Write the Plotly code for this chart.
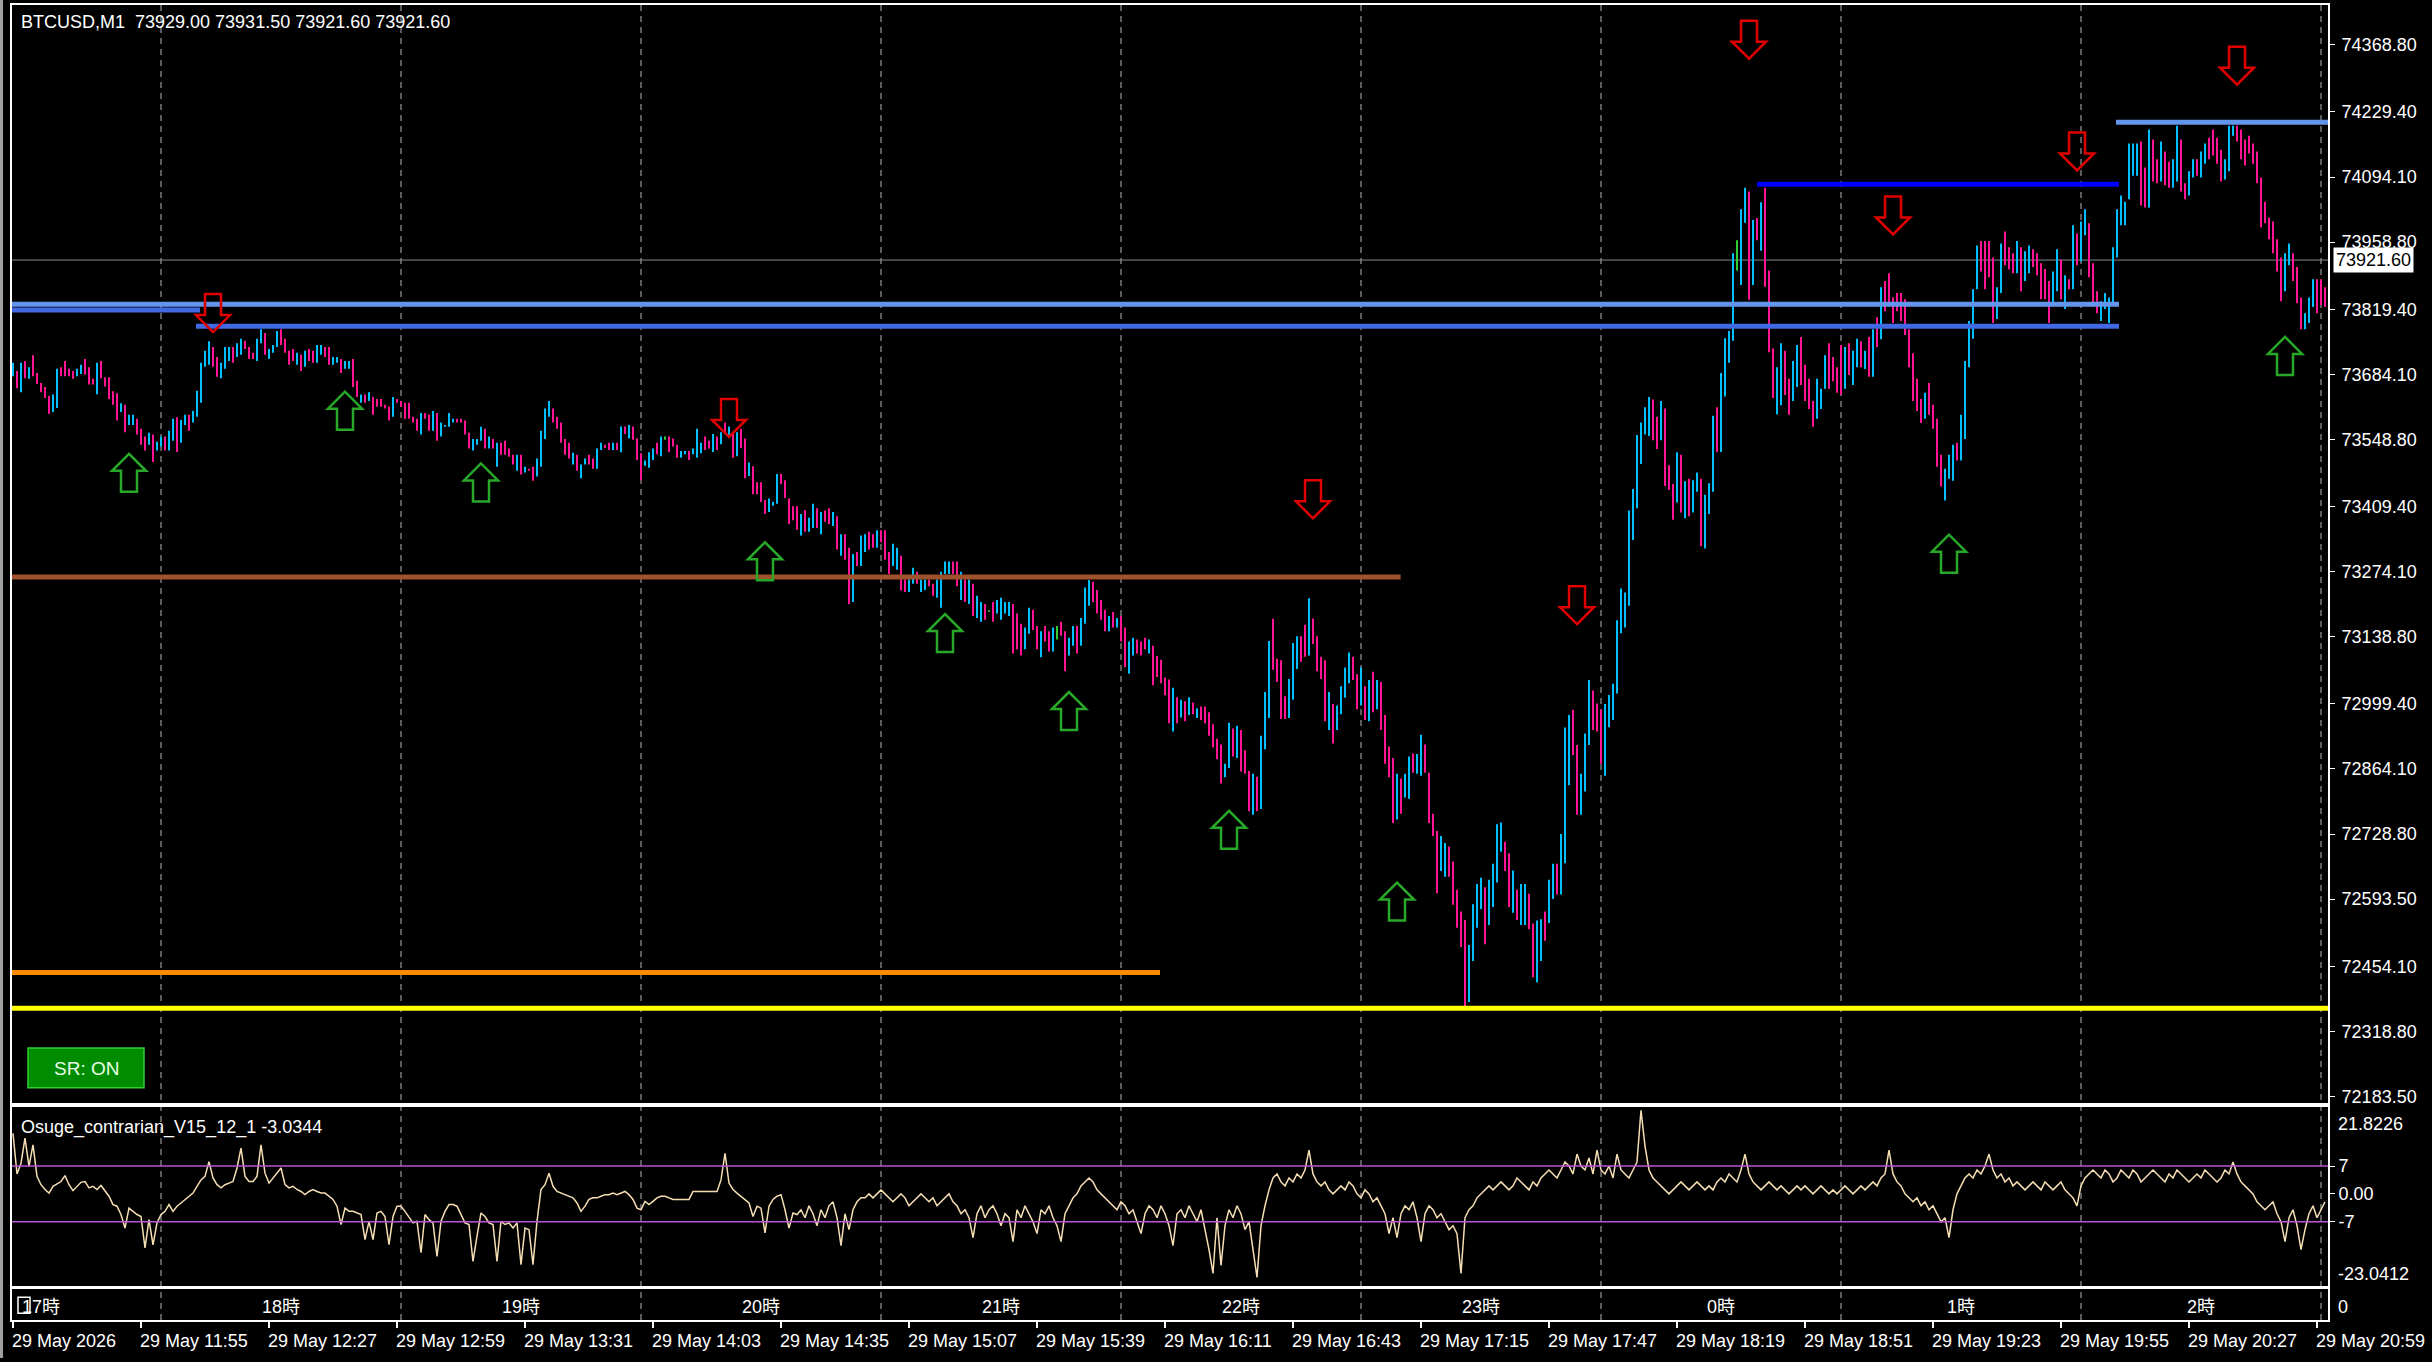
import plotly.graph_objects as go
import pandas as pd

W, H = 2432, 1362
start = pd.Timestamp("2026-05-29 11:23")

# ---------------- data ----------------
bar_high = [
73708,73691,73708,73712,73699,73724,73687,73666,73658,73639,
73642,73696,73699,73712,73696,73691,73696,73704,73716,73699,
73675,73708,73712,73678,73678,73649,73645,73624,73621,73600,
73600,73592,73571,73555,73563,73559,73544,73555,73555,73567,
73592,73595,73589,73600,73600,73608,73650,73708,73733,73753,
73741,73720,73708,73741,73741,73741,73749,73758,73754,73741,
73729,73758,73778,73770,73737,73745,73774,73778,73758,73733,
73737,73729,73725,73733,73737,73733,73745,73745,73741,73741,
73720,73720,73716,73712,73712,73716,73671,73642,73642,73647,
73637,73633,73633,73621,73617,73637,73633,73629,73625,73625,
73596,73592,73604,73604,73600,73608,73604,73584,73579,73604,
73592,73592,73592,73588,73563,73550,73550,73575,73571,73555,
73550,73542,73542,73546,73530,73517,73517,73517,73492,73488,
73492,73509,73567,73613,73629,73613,73596,73584,73550,73542,
73521,73517,73497,73509,73517,73509,73530,
73542,73538,73542,73542,73542,73576,73576,73579,73576,73551,
73520,73505,73522,73530,73542,73555,73555,73555,73551,73538,
73525,73525,73525,73530,73571,73542,73555,73546,73560,73555,
73564,73584,73576,73564,73564,73571,73551,73501,73493,73460,
73460,73423,73426,73419,73477,73477,73464,73426,73410,73410,
73394,73402,73386,73415,73406,73398,73401,73406,73398,73389,
73352,73352,73324,73311,73315,73349,73352,73357,73352,73360,
73360,73360,73315,73332,73324,73307,73258,73258,73282,73274,
73258,73258,73258,73249,73258,73274,73295,73295,73295,73295,
73274,73258,73258,73249,73224,73211,73207,73194,73211,73215,
73220,73211,73211,73207,73187,73166,73158,73199,73195,73161,
73150,73161,73150,73158,73161,73170,73150,73137,73161,73161,
73178,73241,73257,73253,73236,73215,73195,73182,73190,73178,
73182,73158,73129,73137,73133,73129,73137,73133,73120,73099,
73091,73054,73050,73033,73013,73008,73005,73013,
73002,72990,72994,72994,72982,72957,72927,72915,72875,72960,
72948,72954,72945,72903,72860,72854,72848,72933,73024,73130,
73176,73093,73090,73015,73051,73126,73140,73140,73164,73219,
73177,73140,73097,73090,73024,72999,72996,73036,73075,73106,
73097,73061,73075,73036,73049,73066,73049,73045,72976,72911,
72887,72854,72844,72854,72890,72896,72895,72935,72915,72856,
72771,72735,72725,72710,72703,72672,72613,72568,72550,72498,
72583,72625,72638,72618,72634,72667,72749,72753,72713,72689,
72653,72613,72625,72625,72605,72543,72549,72552,72568,72634,
72667,72667,72729,72950,72976,72987,72914,72854,72938,73049,
73027,73000,72987,72999,73018,73041,73173,73239,73231,73401,
73446,73558,73584,73616,73637,73632,73596,73629,73613,73495,
73456,73522,73517,73462,73467,73464,73480,73467,73434,73458,
73598,73616,73687,73759,73774,73936,73963,74027,74072,74064,
74005,74009,74042,74072,73900,73738,73699,
73749,73733,73675,73712,73745,73762,73704,73675,73629,73675,
73654,73724,73749,73720,73699,73745,73741,73749,73733,73758,
73753,73733,73762,73778,73803,73865,73878,73894,73844,73853,
73853,73840,73778,73728,73675,73633,73646,73666,73621,73592,
73517,73488,73517,73538,73542,73600,73712,73795,73861,73952,
73961,73961,73961,73927,73865,73956,73981,73948,73936,73961,
73948,73940,73952,73944,73936,73915,73903,73878,73898,73944,
73923,73890,73882,73994,73977,74002,74027,73998,73915,73857,
73836,73853,73844,73948,74027,74056,74043,74164,74164,74164,
74168,74114,74193,74172,74131,74168,74147,74126,74131,74201,
74172,74081,74106,74131,74131,74147,74164,74176,74193,74176,
74151,74131,74201,74201,74201,74193,74172,74180,74164,74147,
74093,74043,74010,74002,73965,73927,73936,73956,73936,73907,
73844,73811,73844,73882,73882,73882,73865,
]

bar_low = [
73680,73655,73647,73676,73675,73680,73664,73647,73635,73602,
73606,73614,73680,73680,73680,73675,73680,73685,73684,73663,
73663,73643,73676,73659,73633,73621,73588,73606,73564,73579,
73579,73559,73538,73526,73538,73502,73526,73534,73526,73526,
73546,73523,73542,73579,73567,73584,73596,73625,73700,73704,
73700,73679,73676,73696,73712,73708,73720,73725,73737,73716,
73716,73712,73749,73725,73716,73729,73741,73745,73729,73704,
73712,73704,73691,73700,73712,73708,73708,73725,73720,73704,
73704,73708,73687,73696,73696,73658,73637,73625,73625,73629,
73600,73617,73617,73613,73588,73596,73625,73617,73592,73592,
73584,73567,73559,73592,73567,73567,73546,73555,73575,73575,
73584,73584,73584,73559,73530,73526,73538,73546,73530,73530,
73530,73492,73517,73517,73513,73497,73484,73476,73480,73484,
73463,73472,73492,73550,73596,73584,73571,73542,73517,73509,
73497,73484,73468,73497,73497,73488,73488,
73527,73531,73527,73527,73527,73522,73560,73551,73548,73506,
73464,73494,73490,73506,73518,73514,73548,73523,73534,73511,
73511,73518,73506,73518,73511,73520,73527,73530,73523,73527,
73539,73560,73555,73511,73514,73531,73468,73473,73435,73435,
73419,73394,73398,73411,73415,73456,73427,73373,73381,73361,
73349,73357,73357,73365,73365,73352,73378,73373,73369,73320,
73307,73299,73207,73211,73286,73286,73315,73320,73324,73324,
73335,73299,73269,73286,73278,73235,73232,73232,73249,73249,
73232,73236,73244,73224,73220,73199,73269,73269,73269,73244,
73215,73211,73207,73182,73178,73170,73174,73191,73170,73187,
73174,73187,73182,73104,73113,73100,73113,73145,73153,73113,
73096,73129,73108,73108,73133,73141,73067,73100,73120,73104,
73120,73166,73203,73211,73187,73174,73150,73150,73158,73158,
73129,73076,73062,73100,73104,73100,73113,73104,73038,73055,
73042,73017,72959,72942,72959,72971,72963,72976,
72978,72970,72966,72959,72933,72909,72884,72834,72847,72866,
72890,72887,72859,72854,72776,72769,72776,72781,72905,72970,
73070,73045,72968,72968,72970,73008,73072,73087,73097,73100,
73124,73067,73051,72963,72945,72917,72945,72978,73012,73042,
73049,72988,72996,72966,72963,72982,72988,72945,72875,72847,
72752,72759,72771,72805,72802,72856,72854,72850,72856,72752,
72725,72606,72652,72640,72640,72582,72534,72494,72370,72380,
72465,72534,72573,72500,72540,72577,72628,72692,72652,72577,
72565,72550,72540,72540,72531,72431,72421,72465,72507,72544,
72594,72603,72603,72668,72830,72893,72769,72769,72817,72914,
72945,72942,72875,72850,72951,72966,73021,73146,73158,73203,
73340,73406,73498,73559,73556,73547,73529,73547,73452,73444,
73382,73418,73397,73385,73389,73397,73440,73327,73322,73394,
73440,73523,73523,73638,73708,73754,73900,73870,73999,73839,
73870,73963,73941,73866,73730,73635,73601,
73620,73641,73600,73629,73658,73662,73629,73612,73575,73592,
73612,73654,73654,73670,73646,73641,73654,73683,73662,73699,
73699,73695,73679,73679,73741,73757,73815,73832,73791,73815,
73795,73766,73699,73629,73608,73583,73592,73600,73571,73492,
73451,73422,73467,73463,73505,73505,73550,73699,73758,73861,
73898,73861,73886,73791,73799,73853,73911,73902,73894,73894,
73857,73878,73894,73907,73890,73840,73840,73791,73832,73857,
73840,73820,73861,73861,73911,73919,73973,73886,73824,73811,
73795,73820,73791,73832,73927,73994,73994,74048,74097,74097,
74035,74031,74031,74085,74081,74085,74077,74072,74072,74085,
74064,74048,74056,74093,74097,74093,74122,74131,74139,74122,
74085,74089,74106,74180,74168,74131,74118,74143,74122,74081,
73990,73998,73965,73936,73898,73836,73857,73911,73878,73832,
73778,73778,73791,73824,73811,73828,73824,
]

# u = close above open, d = close below open, n = unchanged
bar_dir = (
    "udududdddd" "uudddduudd" "dudddddudu" "uddduduudu" "uduuduuuuu"
    "dduuuduudd" "duuduuuddd" "dududduudd" "uuduuddudu" "dddddudddd"
    "ddudduduuu" "udddduuudu" "duddddudud" "duuuuddddd" "uduuddu"
    "uddudududd" "duuudunddd" "uuduuuddud" "udududdudd" "dduuuddddd"
    "uduududdud" "udduduuddu" "ddduudduud" "uudduuuudd" "ududuudndu"
    "uuuddduudd" "uddundduud" "uuuddddudu" "dduudddudd" "dddududu"
    "dudddddduu" "duddduduuu" "dddduuuddu" "dddduduuuu" "ddudududdd"
    "duduuduudd" "dduudddddu" "uuuduuuudd" "uduudduudu" "uduuudduuu"
    "ddduuuuuuu" "uuuuuddudd" "dududuuduu" "uduuuunuud" "ududddu"
    "udduuddddu" "uudddduduu" "dudududddd" "dddddduddd" "duuuduuuuu"
    "dddduudddu" "duuddddduu" "dududuuddd" "uuuuuuuuuu" "dduddudduu"
    "dduuduuddd" "duuudddddd" "dddddduudd" "duuuddd"
)

ind_vals = [
15.2,5.0,7.7,14.0,6.9,12.3,4.4,2.3,1.1,0.2,
1.9,2.6,3.1,4.6,2.3,0.8,1.9,2.9,3.1,1.5,
1.9,1.1,2.1,0.6,-0.6,-2.7,-3.1,-5.2,-8.6,-3.6,
-4.4,-5.2,-5.7,-13.6,-6.5,-12.8,-7.3,-5.2,-4.4,-2.7,
-4.4,-3.1,-2.3,-1.4,-0.6,0.2,1.9,3.5,4.4,8.1,
4.0,2.3,1.5,2.3,2.7,3.1,6.5,11.5,4.4,3.1,
3.1,4.4,12.3,5.2,2.7,4.0,5.0,6.5,2.3,1.5,
1.9,1.1,0.6,-0.2,0.6,1.1,0.6,0.2,0.2,-0.6,
-1.4,-3.1,-7.7,-3.6,-4.4,-4.4,-4.8,-5.2,-11.5,-6.9,
-11.5,-4.8,-4.4,-5.7,-12.8,-5.7,-3.1,-3.1,-4.4,-5.7,
-7.3,-6.9,-14.8,-5.2,-6.5,-7.3,-15.7,-6.9,-4.4,-2.7,
-2.7,-3.1,-5.2,-7.3,-7.7,-17.0,-10.6,-4.8,-5.7,-7.3,
-7.7,-17.0,-6.9,-7.7,-7.3,-8.6,-7.3,-17.8,-8.6,-9.0,
-17.8,-6.9,1.1,2.3,5.2,1.9,0.6,0.2,-0.2,-0.6,
-1.0,-2.3,-4.4,-3.1,-1.4,-1.0,-1.0,-0.6,-0.2,-0.2,
0.2,-0.2,0.2,0.6,-0.2,-1.4,-3.6,-4.0,-1.9,-2.7,
-1.9,-1.0,-0.6,-0.6,-1.0,-1.4,-1.4,-1.4,-1.4,-1.4,
0.6,0.6,0.6,0.6,0.6,0.6,0.6,3.5,10.2,2.7,
1.1,0.2,-0.6,-1.4,-2.3,-5.7,-3.1,-3.6,-9.8,-3.1,
-1.4,-0.6,-0.2,-4.0,-8.6,-4.8,-5.2,
-4,-6,-3,-5,-8,-4,-6,-3,-2,
-6,-13,-5,-9,-4,-2,-1,
-1,0,-1,0,1,0,-1,-2,-1,0,-1,-3,-2,-1,0,-1,-2,-1,-3,-2,-1,0,-2,
-3,-5,-4,-6,-11,-5,-3,-6,-4,-3,-5,-8,-5,-6,-12,-4,-6,-3,-5,-7,-10,-4,-5,-3,-6,-8,-12,
-5,-3,-1,0,2,3,4,3,1,0,
-1,-2,-3,-4,-2,-3,-5,-4,-7,-10,-5,-3,-4,-6,-3,-5,-8,-13,-5,-4,-6,-3,-5,-7,-4,-9,-14,-20,
-6,-18,-8,-4,-6,-3,-5,-9,-7,-14,-21,-8,
-3,1,4,5,3,2,4,3,5,4,6,11,5,3,2,3,1,0,
1,2,1,3,2,0,-1,1,0,-2,-1,-3,-5,-10,-6,
-11,-5,-3,-4,-2,-6,-12,-5,-3,-4,-6,-5,-7,-9,-8,-10,-20,-6,-4,-3,-1,0,1,2,1,
2,3,2,1,2,4,3,2,1,3,2,4,5,6,5,4,6,8,7,5,10,7,6,9,5,
11,6,5,7,4,10,6,5,4,6,8,21,12,6,4,
3,2,1,0,1,2,3,2,1,2,3,2,1,2,1,3,4,3,5,4,3,6,10,5,3,2,1,2,3,2,
1,2,1,0,1,2,1,2,1,0,1,2,1,0,1,0,1,2,1,0,1,2,1,2,3,2,4,5,11,5,
3,2,0,-1,-2,-1,-3,-2,-4,-3,-5,-7,-6,-11,-4,
0,2,4,5,4,6,5,7,10,6,4,5,3,4,2,
3,2,1,2,3,2,1,3,2,1,2,3,1,0,-1,-3,2,4,5,6,
5,4,6,5,3,4,6,5,4,6,5,3,4,5,6,5,4,3,5,4,6,5,4,3,4,5,4,6,5,4,3,4,6,5,8,5,3,2,1,0,-2,-3,-4,-3,-2,
-5,-7,-12,-6,-4,-8,-14,-9,-5,-3,-6,-4,-2,
]

price_ticks = [74368.80, 74229.40, 74094.10, 73958.80, 73819.40, 73684.10, 73548.80,
               73409.40, 73274.10, 73138.80, 72999.40, 72864.10, 72728.80, 72593.50,
               72454.10, 72318.80, 72183.50]
ind_ticks = [7, 0, -7]
ind_tick_text = ["7", "0.00", "-7"]
ind_max, ind_min = 21.8226, -23.0412
ind_last = -3.0344
last_ohlc = [73929.00, 73931.50, 73921.60, 73921.60]
bid_price = 73921.60

time_labels = ["29 May 2026", "29 May 11:55", "29 May 12:27", "29 May 12:59", "29 May 13:31",
               "29 May 14:03", "29 May 14:35", "29 May 15:07", "29 May 15:39", "29 May 16:11",
               "29 May 16:43", "29 May 17:15", "29 May 17:47", "29 May 18:19", "29 May 18:51",
               "29 May 19:23", "29 May 19:55", "29 May 20:27", "29 May 20:59"]
time_label_bars = [0, 32, 64, 96, 128, 160, 192, 224, 256, 288, 320, 352, 384, 416, 448,
                   480, 512, 544, 576]
hour_labels = ["17時", "18時", "19時", "20時", "21時", "22時", "23時", "0時", "1時", "2時"]
hour_label_times = ["11:30", "12:30", "13:30", "14:30", "15:30", "16:30", "17:30",
                    "18:30", "19:30", "20:30"]
hour_grid_times = ["12:00", "13:00", "14:00", "15:00", "16:00", "17:00", "18:00",
                   "19:00", "20:00", "21:00"]

# support / resistance lines: level, start, end (bar offsets in minutes)
sr_level = [73830, 73818, 73784, 74079, 74208, 73263, 72441, 72367]
sr_start = [-60, -60, 45.75, 436, 525.75, -60, -60, -60]
sr_end = [526.5, 46.75, 526.5, 526.5, 640, 346.9, 286.75, 640]
sr_color = ["#6495ED", "#4169E1", "#4169E1", "#0000FF", "#6495ED", "#A0522D", "#FF8C00", "#FFFF00"]

# arrow signals (time, tip price)
sig_dn_time = ["12:13", "14:22", "16:48", "17:54", "18:37", "19:13", "19:59", "20:39"]
sig_dn_price = [73772, 73554, 73385, 73165, 74340, 73975, 74108, 74286]
sig_up_time = ["11:52", "12:46", "13:20", "14:31", "15:16", "15:47", "16:27", "17:09", "19:27", "20:51"]
sig_up_price = [73519, 73648, 73499, 73335, 73186, 73024, 72777, 72628, 73351, 73762]

# ---------------- helpers ----------------
def t(minutes):
    return start + pd.Timedelta(minutes=minutes)

def tod(hhmm):
    return pd.Timestamp("2026-05-29 " + hhmm)

def ts(x):
    return x.strftime("%Y-%m-%d %H:%M:%S")

def px_x(p):
    return (p - 12) / 2316.0

def px_y(p):
    return 1 - p / float(H)

FONT = "Liberation Sans, Arial, Noto Sans CJK JP, sans-serif"

fig = go.Figure()

# bid line
fig.add_trace(go.Scatter(x=[t(-60), t(640)], y=[bid_price, bid_price], mode="lines",
                         line=dict(color="#7F8A96", width=1), hoverinfo="skip",
                         showlegend=False, xaxis="x", yaxis="y"))

# bars
n = min(len(bar_high), len(bar_low), len(bar_dir))
colors = {"u": "#00BFFF", "d": "#FF1493", "n": "#32CD32"}
for key, col in colors.items():
    xs, ys = [], []
    for i in range(n):
        if bar_dir[i] == key:
            xs += [t(i), t(i), None]
            ys += [bar_low[i], bar_high[i], None]
    fig.add_trace(go.Scatter(x=xs, y=ys, mode="lines", line=dict(color=col, width=2),
                             hoverinfo="skip", showlegend=False, xaxis="x", yaxis="y"))

# SR lines
for lvl, s, e, col in zip(sr_level, sr_start, sr_end, sr_color):
    fig.add_trace(go.Scatter(x=[t(s), t(e)], y=[lvl, lvl], mode="lines",
                             line=dict(color=col, width=5), hoverinfo="skip",
                             showlegend=False, xaxis="x", yaxis="y"))

# indicator
fig.add_trace(go.Scatter(x=[t(i) for i in range(len(ind_vals))], y=ind_vals, mode="lines",
                         line=dict(color="#F5DEB3", width=1.5), hoverinfo="skip",
                         showlegend=False, xaxis="x2", yaxis="y2"))
for lv in [7, -7]:
    fig.add_trace(go.Scatter(x=[t(-60), t(640)], y=[lv, lv], mode="lines",
                             line=dict(color="#BA55D3", width=1.5), hoverinfo="skip",
                             showlegend=False, xaxis="x2", yaxis="y2"))

shapes = []
# hour grid
for hh in hour_grid_times:
    shapes.append(dict(type="line", xref="x", yref="paper", x0=ts(tod(hh)), x1=ts(tod(hh)),
                       y0=px_y(1324), y1=px_y(5), layer="below",
                       line=dict(color="#7A7A7A", width=1.5, dash="6px,5px")))

dn_path = "M0,0 L-17,17 L-8,17 L-8,38 L8,38 L8,17 L17,17 Z"
up_path = "M0,0 L-17,-17 L-8,-17 L-8,-38 L8,-38 L8,-17 L17,-17 Z"
for tt, pr in zip(sig_dn_time, sig_dn_price):
    shapes.append(dict(type="path", xref="x", yref="y", xsizemode="pixel", ysizemode="pixel",
                       xanchor=ts(tod(tt)), yanchor=pr, path=dn_path, layer="above",
                       line=dict(color="#E00000", width=2.5), fillcolor="rgba(0,0,0,0)"))
for tt, pr in zip(sig_up_time, sig_up_price):
    shapes.append(dict(type="path", xref="x", yref="y", xsizemode="pixel", ysizemode="pixel",
                       xanchor=ts(tod(tt)), yanchor=pr, path=up_path, layer="above",
                       line=dict(color="#28A828", width=2.5), fillcolor="rgba(0,0,0,0)"))

# left window border
shapes.append(dict(type="rect", xref="paper", yref="paper", x0=px_x(0), x1=px_x(3),
                   y0=0, y1=1, fillcolor="#A0A0A0", line=dict(width=0), layer="above"))
# SR button
shapes.append(dict(type="rect", xref="paper", yref="paper", x0=px_x(28), x1=px_x(144),
                   y0=px_y(1091), y1=px_y(1051), fillcolor="#008C00",
                   line=dict(color="#30D030", width=1.5), layer="above"))
# small calendar icon in time strip
shapes.append(dict(type="rect", xref="paper", yref="paper", x0=px_x(18), x1=px_x(30),
                   y0=px_y(1317), y1=px_y(1301), fillcolor="rgba(0,0,0,0)",
                   line=dict(color="#FFFFFF", width=1.5), layer="above"))

annotations = []
annotations.append(dict(xref="paper", yref="paper", x=px_x(19), y=px_y(22), xanchor="left",
                        yanchor="middle", showarrow=False,
                        text="BTCUSD,M1\u00a0 " + " ".join(f"{v:.2f}" for v in last_ohlc),
                        font=dict(family=FONT, size=18, color="#FFFFFF")))
annotations.append(dict(xref="paper", yref="paper", x=px_x(19), y=px_y(1131), xanchor="left",
                        yanchor="middle", showarrow=False,
                        text=f"Osuge_contrarian_V15_12_1 {ind_last:.4f}",
                        font=dict(family=FONT, size=18, color="#FFFFFF")))
annotations.append(dict(xref="paper", yref="paper", x=px_x(2336), y=px_y(1127), xanchor="left",
                        yanchor="middle", showarrow=False, text=f"{ind_max:.4f}",
                        font=dict(family=FONT, size=18, color="#FFFFFF")))
annotations.append(dict(xref="paper", yref="paper", x=px_x(2336), y=px_y(1278), xanchor="left",
                        yanchor="middle", showarrow=False, text=f"{ind_min:.4f}",
                        font=dict(family=FONT, size=18, color="#FFFFFF")))
annotations.append(dict(xref="paper", yref="paper", x=px_x(2336), y=px_y(1311), xanchor="left",
                        yanchor="middle", showarrow=False, text="0",
                        font=dict(family=FONT, size=18, color="#FFFFFF")))
annotations.append(dict(xref="paper", yref="y", x=px_x(2333), y=bid_price, xanchor="left",
                        yanchor="middle", showarrow=False, text=f"{bid_price:.2f}",
                        bgcolor="#FFFFFF", borderpad=2,
                        font=dict(family=FONT, size=18, color="#000000")))
annotations.append(dict(xref="paper", yref="paper", x=px_x(86), y=px_y(1072), xanchor="center",
                        yanchor="middle", showarrow=False, text="SR: ON",
                        font=dict(family=FONT, size=19, color="#E8FFE8")))
for lab, b in zip(time_labels, time_label_bars):
    annotations.append(dict(xref="x3", yref="paper", x=ts(t(b)), y=px_y(1345), xanchor="left",
                            yanchor="middle", showarrow=False, text=lab, xshift=-3,
                            font=dict(family=FONT, size=18, color="#FFFFFF")))
for lab, hh in zip(hour_labels, hour_label_times):
    annotations.append(dict(xref="x3", yref="paper", x=ts(tod(hh)), y=px_y(1311),
                            xanchor="center", yanchor="middle", showarrow=False, text=lab,
                            font=dict(family=FONT, size=18, color="#FFFFFF")))

xr = [ts(t(-0.25)), ts(t(578.75))]
axis_common = dict(type="date", range=xr, showgrid=False, zeroline=False, showline=True,
                   mirror=True, linecolor="#FFFFFF", linewidth=2)

fig.update_layout(
    width=W, height=H,
    margin=dict(l=12, r=104, t=0, b=0),
    paper_bgcolor="#000000", plot_bgcolor="rgba(0,0,0,0)",
    showlegend=False,
    xaxis=dict(axis_common, anchor="y", showticklabels=False, ticks=""),
    xaxis2=dict(axis_common, anchor="y2", matches="x", showticklabels=False, ticks=""),
    xaxis3=dict(axis_common, anchor="y3", matches="x", showticklabels=False, ticks="outside",
                ticklen=6, tickwidth=1.5, tickcolor="#FFFFFF", tickmode="array",
                tickvals=[ts(t(b)) for b in time_label_bars]),
    yaxis=dict(domain=[px_y(1106), px_y(5)], range=[72170.4, 74451.7], side="right",
               showgrid=False, zeroline=False, showline=True, mirror=True,
               linecolor="#FFFFFF", linewidth=2, ticks="outside", ticklen=5,
               ticklabelstandoff=3,
               tickcolor="#FFFFFF", tickmode="array", tickvals=price_ticks,
               ticktext=[f"{v:.2f}" for v in price_ticks],
               tickfont=dict(family=FONT, size=18, color="#FFFFFF")),
    yaxis2=dict(domain=[px_y(1289.3), px_y(1110.3)], range=[ind_min, ind_max], side="right",
                showgrid=False, zeroline=False, showline=True, mirror=True,
                linecolor="#FFFFFF", linewidth=2, ticks="outside", ticklen=5,
                tickcolor="#FFFFFF", tickmode="array", tickvals=ind_ticks,
                ticktext=ind_tick_text,
                tickfont=dict(family=FONT, size=18, color="#FFFFFF")),
    yaxis3=dict(domain=[px_y(1324), px_y(1293)], range=[0, 1], side="right",
                showgrid=False, zeroline=False, showline=True, mirror=True,
                linecolor="#FFFFFF", linewidth=2, showticklabels=False, ticks=""),
    shapes=shapes,
    annotations=annotations,
)

page_fix = (
    "document.documentElement.style.margin='0';"
    "document.documentElement.style.padding='0';"
    "document.body.style.margin='0';"
    "document.body.style.padding='0';"
    "document.documentElement.style.overflow='hidden';"
    "document.body.style.overflow='hidden';"
    "var gd=document.getElementById('{plot_id}');"
    "gd.style.display='block';"
    "if(gd.parentElement){gd.parentElement.style.lineHeight='0';"
    "gd.parentElement.style.fontSize='0';}"
)

fig.write_html("out.html", config={"displayModeBar": False}, post_script=page_fix)
